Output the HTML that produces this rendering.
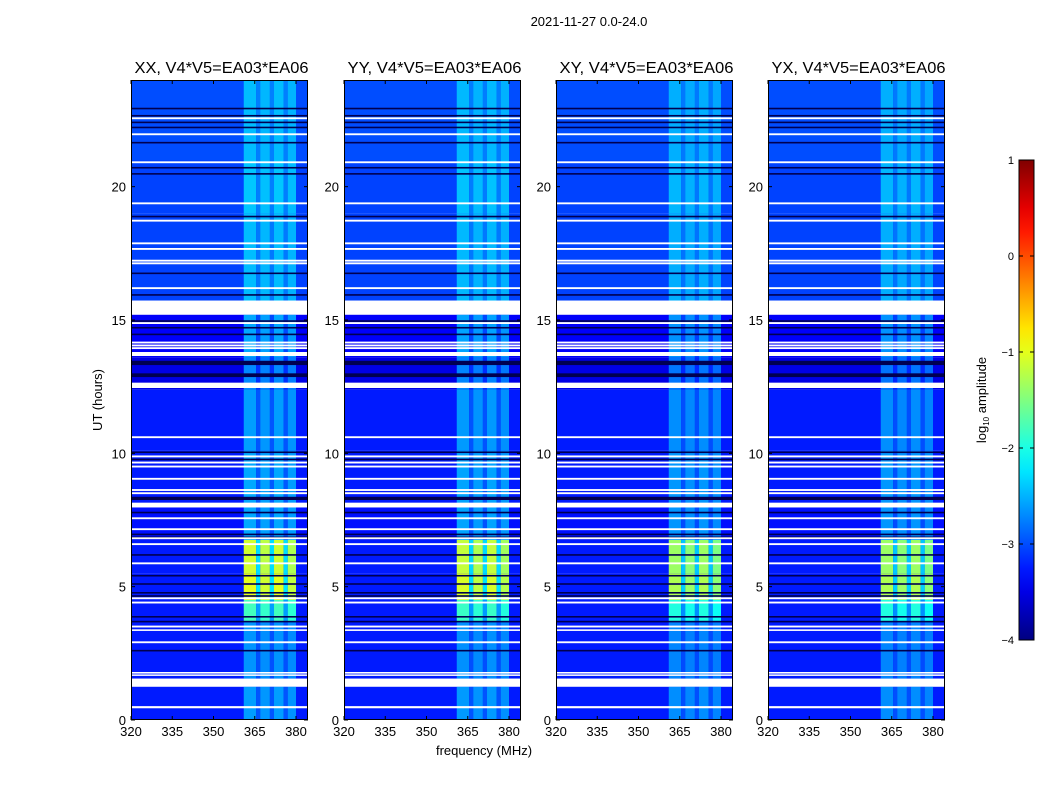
<!DOCTYPE html>
<html><head><meta charset="utf-8"><style>
html,body{margin:0;padding:0;background:#fff;}
svg{display:block;font-family:"Liberation Sans",sans-serif;}
</style></head><body>
<svg id="fig" width="1050" height="800" viewBox="0 0 1050 800" xmlns="http://www.w3.org/2000/svg">
<defs><linearGradient id="jet" x1="0" y1="1" x2="0" y2="0"></linearGradient></defs>
<text x="589" y="26" font-size="13" text-anchor="middle">2021-11-27 0.0-24.0</text>
<text x="484" y="755" font-size="13" text-anchor="middle">frequency (MHz)</text>
<text x="0" y="0" font-size="13" text-anchor="middle" transform="translate(102,400) rotate(-90)">UT (hours)</text>
<g id="panels"></g>
<g id="cbar"></g>
</svg>
<script>
const panelTitles = ["XX, V4*V5=EA03*EA06","YY, V4*V5=EA03*EA06","XY, V4*V5=EA03*EA06","YX, V4*V5=EA03*EA06"];
const xTicks = [320,335,350,365,380];
const yTicks = [0,5,10,15,20];
const cbarTicks = [1,0,-1,-2,-3,-4];
// time segments: start hour, end hour, background log amp, band log amp
const segStart = [0,1.55,3.7,4.5,5.5,6.75,8.0,10.1,12.4,13.6,15.7,16.2,19.0,21.0];
const segEnd   = [1.25,3.7,4.5,5.5,6.75,8.0,10.1,12.4,13.6,15.2,16.2,19.0,21.0,24.0];
const segBg    = [-3.25,-3.25,-3.25,-3.25,-3.25,-3.3,-3.25,-3.25,-3.5,-3.4,-3.05,-3.05,-3.05,-3.0];
const segBand  = [-2.6,-2.65,-1.8,-1.0,-1.1,-2.55,-2.55,-2.6,-2.7,-2.55,-2.45,-2.45,-2.4,-2.45];
// per-panel scale of the bright-band contrast
const panelBandGain = [1.0,0.97,0.88,0.88];
// frequency columns of RFI band
const colStart  = [361,365.5,367,370.5,372,375.5,377];
const colEnd    = [365.5,367,370.5,372,375.5,377,380];
const colFactor = [1,0.45,0.95,0.45,1,0.45,0.92];
// flagged (white) rows: start,end hours
const flagStart = [0.44,1.25,1.66,1.74,2.88,3.34,3.47,4.37,4.53,5.84,6.56,6.78,7.12,7.53,7.97,8.47,8.59,9.01,9.47,9.62,9.85,10.57,12.45,13.65,13.91,14.01,14.12,14.85,15.2,15.66,16.16,17.09,17.19,17.63,17.84,18.69,19.34,20.88,21.93,22.53];
const flagEnd   = [0.52,1.55,1.71,1.80,2.95,3.40,3.54,4.44,4.60,5.91,6.63,6.85,7.19,7.60,8.15,8.54,8.66,9.08,9.54,9.69,9.92,10.64,12.65,13.8,13.98,14.08,14.19,14.92,15.7,15.73,16.23,17.16,17.26,17.70,17.91,18.76,19.41,20.95,22.0,22.6];
// dark (black) rows
const darkStart = [2.57,3.66,3.84,4.62,4.74,5.07,5.38,6.16,6.82,6.93,7.75,8.25,9.74,10.01,12.86,13.31,14.43,14.68,14.93,15.91,16.72,18.85,20.45,20.68,21.62,22.19,22.38,22.63,22.9];
const darkEnd   = [2.63,3.72,3.90,4.68,4.80,5.13,5.44,6.22,6.88,6.99,7.81,8.37,9.80,10.07,13.0,13.47,14.49,14.74,14.99,15.97,16.78,18.91,20.51,20.74,21.68,22.25,22.44,22.69,22.96];

const NS="http://www.w3.org/2000/svg";
function mk(tag,attrs,parent){const e=document.createElementNS(NS,tag);for(const k in attrs)e.setAttribute(k,attrs[k]);parent.appendChild(e);return e;}
function jet(v){const t=Math.max(0,Math.min(1,(v+4)/5));const c=x=>Math.round(255*Math.max(0,Math.min(1,1.5-Math.abs(4*t-x))));return `rgb(${c(3)},${c(2)},${c(1)})`;}
const panelLeft=[131,344,556,768], PW=177, TOP=80, BOT=720;
const FMIN=320, FMAX=384.36, TMAX=24;
const panels=document.getElementById('panels');
panelTitles.forEach((title,p)=>{
  const L=panelLeft[p];
  const xs=f=>L+(f-FMIN)/(FMAX-FMIN)*PW;
  const ys=h=>BOT-h/TMAX*(BOT-TOP);
  const g=mk('g',{},panels);
  
  
  const hm=mk('g',{},g);
  
  
  for(let s=0;s<segStart.length;s++){
    const y0=ys(segEnd[s]), y1=ys(segStart[s]);
    const r=mk('rect',{x:L,y:y0,width:PW,height:y1-y0,fill:jet(segBg[s])},hm);
    
    
    for(let c=0;c<colStart.length;c++){
      const band=segBg[s]+(segBand[s]-segBg[s])*colFactor[c]*panelBandGain[p];
      const rc=mk('rect',{x:xs(colStart[c]),y:y0,width:xs(colEnd[c])-xs(colStart[c]),height:y1-y0,fill:jet(band)},hm);
      
      
    }
  }
  for(let i=0;i<darkStart.length;i++){
    const r=mk('rect',{x:L,y:ys(darkEnd[i]),width:PW,height:Math.max(1.2,ys(darkStart[i])-ys(darkEnd[i])),fill:'#000050'},hm);
    
    
  }
  for(let i=0;i<flagStart.length;i++){
    const r=mk('rect',{x:L,y:ys(flagEnd[i]),width:PW,height:Math.max(1.5,ys(flagStart[i])-ys(flagEnd[i])),fill:'#fff'},hm);
    
    
  }
  const fr=mk('rect',{x:L+0.5,y:TOP+0.5,width:PW-1,height:BOT-TOP-1,fill:'none',stroke:'#000','stroke-width':1},g);
  
  
  const t=mk('text',{x:L+PW/2+2,y:TOP-7,'font-size':15.5,'text-anchor':'middle',textLength:174,lengthAdjust:'spacingAndGlyphs'},g);
  t.textContent=title;
  
  
  xTicks.forEach(f=>{
    const x=xs(f);
    mk('line',{x1:x,x2:x,y1:BOT,y2:BOT-4,stroke:'#000'},g);
    mk('line',{x1:x,x2:x,y1:TOP,y2:TOP+4,stroke:'#000'},g);
    const l=mk('text',{x:x,y:BOT+16,'font-size':13,'text-anchor':'middle'},g);
    l.textContent=f;
    
    
  });
  yTicks.forEach(h=>{
    const y=ys(h);
    mk('line',{x1:L,x2:L+4,y1:y,y2:y,stroke:'#000'},g);
    mk('line',{x1:L+PW,x2:L+PW-4,y1:y,y2:y,stroke:'#000'},g);
    const l=mk('text',{x:L-5,y:y+5,'font-size':13,'text-anchor':'end'},g);
    l.textContent=h;
    
    
  });
});
// colorbar
const grad=document.getElementById('jet');
for(let i=0;i<=20;i++){const v=-4+5*i/20;mk('stop',{offset:(i/20),'stop-color':jet(v)},grad);}
const cb=document.getElementById('cbar');
const CBX=1019,CBW=15,CBT=160,CBB=640;
const cys=v=>CBB-(v+4)/5*(CBB-CBT);
const cr=mk('rect',{x:CBX,y:CBT,width:CBW,height:CBB-CBT,fill:'url(#jet)',stroke:'#000','stroke-width':1},cb);


cbarTicks.forEach(v=>{
  const y=cys(v);
  mk('line',{x1:CBX,x2:CBX+4,y1:y,y2:y,stroke:'#000'},cb);
  mk('line',{x1:CBX+CBW,x2:CBX+CBW-4,y1:y,y2:y,stroke:'#000'},cb);
  const l=mk('text',{x:CBX-5,y:y+4,'font-size':11,'text-anchor':'end'},cb);
  l.textContent=(v<0?'\u2212'+(-v):v);
  
  
});
const cl=mk('text',{'font-size':13,'text-anchor':'middle',transform:'translate(986,400) rotate(-90)'},cb);
cl.innerHTML='log<tspan font-size="8" dy="3">10</tspan><tspan dy="-3"> amplitude</tspan>';


</script>
</body></html>
